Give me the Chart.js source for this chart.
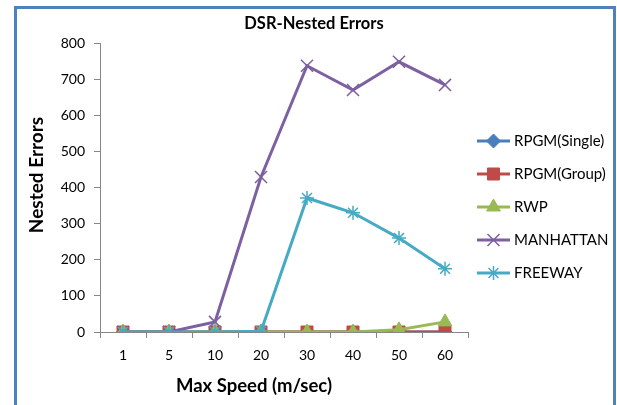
<!DOCTYPE html>
<html>
<head>
<meta charset="utf-8">
<script src="https://cdn.jsdelivr.net/npm/chart.js@4"></script>
<style>
  html, body { margin: 0; padding: 0; background: #fff; overflow: hidden; }
  #wrap { position: relative; width: 617px; height: 405px; }
  #frame { position: absolute; left: 14px; top: 6px; width: 596px; height: 420px; border: 3px solid #4F81BD; box-sizing: content-box; }
  canvas { position: absolute; left: 0; top: 0; }
</style>
</head>
<body>
<div id="wrap">
  <div id="frame"></div>
  <canvas id="c" width="617" height="405"></canvas>
</div>
<script>
const categories = ['1', '5', '10', '20', '30', '40', '50', '60'];
const rpgmSingle = [0, 0, 0, 0, 0, 0, 0, 0];
const rpgmGroup  = [0, 0, 0, 0, 0, 0, 0, 0];
const rwp        = [0, 0, 0, 0, 0, 0, 6, 28];
const manhattan  = [0, 0, 28, 429, 737, 670, 748, 684];
const freeway    = [0, 0, 0, 2, 371, 330, 260, 175];
const seriesNames = ['RPGM(Single)', 'RPGM(Group)', 'RWP', 'MANHATTAN', 'FREEWAY'];
const yMin = 0, yMax = 800, yStep = 100;
const chartTitle = 'DSR-Nested Errors';
const xTitle = 'Max Speed (m/sec)';
const yTitle = 'Nested Errors';

const FONT = 'Lato, "Open Sans", sans-serif';

function ds(label, data, color, style, radius, order) {
  return {
    label, data,
    borderColor: color, backgroundColor: color,
    borderWidth: 3,
    pointStyle: style, pointRadius: radius,
    pointBorderColor: color, pointBackgroundColor: color,
    pointBorderWidth: (style === 'crossRot' || style === 'star') ? 1.5 : 1,
    tension: 0, order
  };
}

const datasets = [
  ds(seriesNames[0], rpgmSingle, '#4A7EBB', 'rectRot', 7, 4),
  ds(seriesNames[1], rpgmGroup,  '#BE4B48', 'rect', 8.5, 3),
  ds(seriesNames[2], rwp,        '#98B954', 'triangle', 8, 2),
  ds(seriesNames[3], manhattan,  '#7D60A0', 'crossRot', 8.5, 1),
  ds(seriesNames[4], freeway,    '#46AAC5', 'star', 7, 0)
];

const decor = {
  id: 'decor',
  afterDraw(chart) {
    const ctx = chart.ctx;
    ctx.save();
    ctx.fillStyle = '#000';
    ctx.textAlign = 'center';
    ctx.textBaseline = 'middle';
    ctx.font = 'bold 16.5px ' + FONT;
    ctx.fillText(chartTitle, 314, 24);
    ctx.font = 'bold 18.5px ' + FONT;
    ctx.fillText(xTitle, 254, 386);
    ctx.save();
    ctx.translate(37, 175);
    ctx.rotate(-Math.PI / 2);
    ctx.font = 'bold 19px ' + FONT;
    ctx.fillText(yTitle, 0, 0);
    ctx.restore();
    // legend
    const x0 = 477, x1 = 510;
    chart.data.datasets.forEach((d, i) => {
      const y = 141 + i * 33;
      ctx.strokeStyle = d.borderColor;
      ctx.lineWidth = 3;
      ctx.beginPath();
      ctx.moveTo(x0, y); ctx.lineTo(x1, y);
      ctx.stroke();
      ctx.fillStyle = d.pointBackgroundColor;
      ctx.strokeStyle = d.pointBorderColor;
      ctx.lineWidth = d.pointBorderWidth;
      Chart.helpers.drawPoint(ctx, { pointStyle: d.pointStyle, radius: d.pointRadius, rotation: 0, borderWidth: d.pointBorderWidth }, (x0 + x1) / 2, y);
      ctx.fillStyle = '#000';
      ctx.textAlign = 'left';
      ctx.font = '15px ' + FONT;
      ctx.fillText(d.label, 514, y);
    });
    ctx.restore();
  }
};

new Chart(document.getElementById('c'), {
  type: 'line',
  data: { labels: categories, datasets },
  options: {
    responsive: false,
    animation: false,
    devicePixelRatio: 1,
    layout: { padding: { top: 43, right: 149, bottom: 0, left: 0 } },
    plugins: { legend: { display: false }, title: { display: false }, tooltip: { enabled: false } },
    scales: {
      x: {
        offset: true,
        grid: { offset: true, drawOnChartArea: false, drawTicks: true, tickLength: 6, color: '#868686' },
        border: { color: '#868686', width: 1 },
        ticks: { color: '#000', font: { family: FONT, size: 14 }, padding: 9, maxRotation: 0 },
        afterFit(s) { s.height = 73; }
      },
      y: {
        min: yMin, max: yMax,
        grid: { drawOnChartArea: false, drawTicks: true, tickLength: 6, color: '#868686' },
        border: { color: '#868686', width: 1 },
        ticks: { stepSize: yStep, color: '#000', font: { family: FONT, size: 14 }, padding: 9 },
        afterFit(s) { s.width = 100; }
      }
    }
  },
  plugins: [decor]
});
</script>
</body>
</html>
